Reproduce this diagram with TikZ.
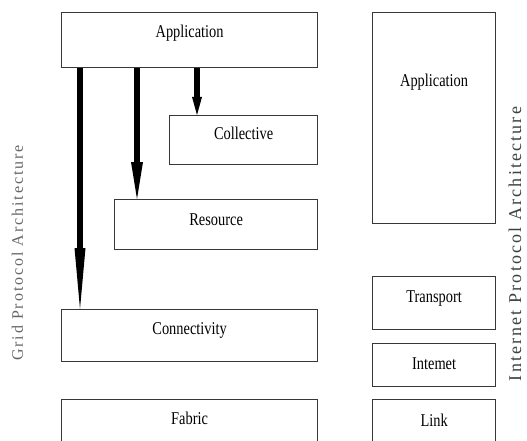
\documentclass[tikz,border=0pt]{standalone}
\usepackage{fontspec}
\setmainfont{Liberation Serif}[FakeStretch=0.8]
\newfontfamily\vfont{Liberation Serif}[LetterSpace=12]
\usetikzlibrary{arrows.meta}
\tikzset{
  layer/.style={draw=black!78, line width=1.2pt, anchor=north west, inner sep=0pt,
    text height=12pt, font=\fontsize{18}{20}\selectfont, text=black},
  arr/.style={line width=6pt, black}
}
\begin{document}
\begin{tikzpicture}[x=1pt,y=-1pt]
\clip (0,0) rectangle (527,441);
\fill[white] (0,0) rectangle (527,441);
% Grid protocol stack
\node[layer, minimum width=256pt, minimum height=55pt, text depth=17pt] (gapp) at (61,12) {Application};
\node[layer, minimum width=148pt, minimum height=49pt, text depth=13pt] (coll) at (169,115) {Collective};
\node[layer, minimum width=203pt, minimum height=50pt, text depth=10pt] (res) at (114,199) {Resource};
\node[layer, minimum width=256pt, minimum height=52pt, text depth=14pt] (conn) at (61,309) {Connectivity};
\node[layer, minimum width=256pt, minimum height=46pt, text depth=8pt] (fab) at (61,399) {Fabric};
% Internet protocol stack
\node[layer, minimum width=123pt, minimum height=211pt, text depth=75pt] (iapp) at (372,12) {Application};
\node[layer, minimum width=123pt, minimum height=53pt, text depth=13pt] (trans) at (372,276) {Transport};
\node[layer, minimum width=123pt, minimum height=43pt, text depth=4pt] (inet) at (372,343) {Intemet};
\node[layer, minimum width=123pt, minimum height=46pt, text depth=4pt] (link) at (372,399) {Link};
% arrows
\draw[arr, -{Triangle[length=61pt,width=11pt,line width=0pt]}] ([xshift=19pt]gapp.south west) -- ([xshift=19pt]conn.north west);
\draw[arr, -{Triangle[length=37pt,width=12pt,line width=0pt]}] ([xshift=76pt]gapp.south west) -- ([xshift=23pt]res.north west);
\draw[arr, line width=5.5pt, -{Triangle[length=18pt,width=10pt,line width=0pt]}] ([xshift=136pt]gapp.south west) -- ([xshift=28pt]coll.north west);
% side titles
\node[rotate=90, anchor=base, inner sep=0pt, text=black!60, font=\vfont\fontsize{16}{18}\selectfont] (gtitle) at (23,253) {Grid Protocol Architecture};
\node[rotate=90, anchor=base, inner sep=0pt, text=black!75, font=\vfont\fontsize{18}{20}\selectfont] (ititle) at (521,244) {Internet Protocol Architecture};
\end{tikzpicture}
\end{document}
